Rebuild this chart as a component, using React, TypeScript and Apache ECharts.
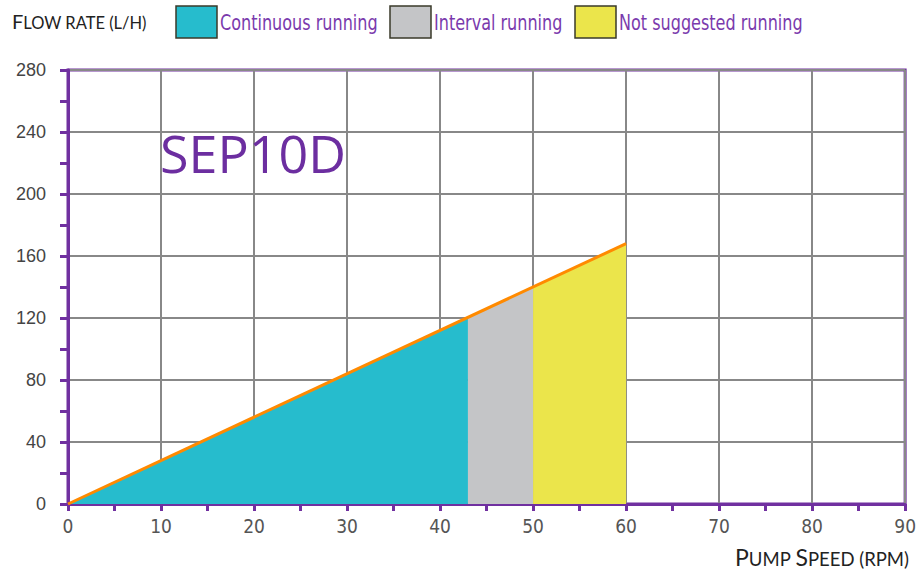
import React, { useEffect, useRef } from "react";
import * as echarts from "echarts";

const continuousRunning: [number, number][] = [[0, 0], [43, 120.4]];
const intervalRunning: [number, number][] = [[43, 120.4], [50, 140]];
const notSuggestedRunning: [number, number][] = [[50, 140], [60, 168]];
const flowLine: [number, number][] = [[0, 0], [60, 168]];
const legendNames = ["Continuous running", "Interval running", "Not suggested running"];
const legendColors = ["#26bccd", "#c4c5c7", "#ebe54b"];
const pumpModel = "SEP10D";

const PURPLE = "#7030a0";
const TEXT_PURPLE = "#7a3aad";
const NARROW = "'Liberation Sans Narrow', 'DejaVu Sans Condensed', 'Roboto', sans-serif";

export default function App() {
  const ref = useRef<HTMLDivElement>(null);
  useEffect(() => {
    if (!ref.current) return;
    const chart = echarts.init(ref.current, undefined, { renderer: "svg" });
    const area = (name: string, data: [number, number][], color: string) => ({
      name,
      type: "line",
      data,
      symbol: "none",
      lineStyle: { width: 0, color },
      itemStyle: { color },
      areaStyle: { color, opacity: 1 },
      z: 2,
    });
    const legendX = [176, 390, 575];
    const legendGraphics: any[] = [];
    legendNames.forEach((name, i) => {
      legendGraphics.push({
        type: "rect",
        shape: { x: legendX[i], y: 6, width: 41, height: 32 },
        style: { fill: legendColors[i], stroke: "#3a3a2a", lineWidth: 1.5 },
      });
      legendGraphics.push({
        type: "text",
        x: legendX[i] + 44,
        y: 23,
        scaleX: 0.85,
        style: {
          text: name,
          fill: TEXT_PURPLE,
          font: `21px ${NARROW}`,
          verticalAlign: "middle",
          align: "left",
        },
      });
    });
    chart.setOption({
      animation: false,
      backgroundColor: "#fff",
      grid: { left: 68, right: 9, top: 70, bottom: 72, show: true, borderColor: PURPLE, borderWidth: 3, backgroundColor: "transparent" },
      xAxis: {
        type: "value",
        min: 0,
        max: 90,
        interval: 10,
        axisLine: { show: true, lineStyle: { color: PURPLE, width: 3 } },
        axisTick: { show: true, length: 7, inside: false, lineStyle: { color: PURPLE, width: 3 } },
        minorTick: { show: true, splitNumber: 2, length: 7, lineStyle: { color: PURPLE, width: 3 } },
        splitLine: { show: true, lineStyle: { color: "#888", width: 2 } },
        axisLabel: { color: "#555", fontSize: 19, fontFamily: NARROW, margin: 12 },
      },
      yAxis: {
        type: "value",
        min: 0,
        max: 280,
        interval: 40,
        axisLine: { show: true, lineStyle: { color: PURPLE, width: 3 } },
        axisTick: { show: true, length: 8, lineStyle: { color: PURPLE, width: 3 } },
        minorTick: { show: true, splitNumber: 2, length: 8, lineStyle: { color: PURPLE, width: 3 } },
        splitLine: { show: true, lineStyle: { color: "#888", width: 2 } },
        axisLabel: { color: "#444", fontSize: 18, fontFamily: "'Liberation Sans', Arial, sans-serif", margin: 22 },
      },
      series: [
        area(legendNames[0], continuousRunning, legendColors[0]),
        area(legendNames[1], intervalRunning, legendColors[1]),
        area(legendNames[2], notSuggestedRunning, legendColors[2]),
        {
          name: "Flow rate",
          type: "line",
          data: flowLine,
          symbol: "none",
          lineStyle: { color: "#ff8a00", width: 3 },
          z: 5,
        },
      ],
      graphic: [
        ...legendGraphics,
        {
          type: "text",
          left: 160,
          top: 126,
          style: { text: pumpModel, fill: "#6c2ea0", font: "52px 'Open Sans', 'Noto Sans', sans-serif" },
          z: 10,
        },
        {
          type: "text",
          left: 12,
          top: 11,
          style: {
            text: "{b|F}{s|LOW RATE (L/H)}",
            rich: {
              b: { fontSize: 20, fill: "#222", fontFamily: "Lato, sans-serif", verticalAlign: "bottom" },
              s: { fontSize: 16.5, fill: "#222", fontFamily: "Lato, sans-serif", verticalAlign: "bottom" },
            },
          },
        },
        {
          type: "text",
          right: 10,
          top: 545,
          style: {
            text: "{b|P}{s|UMP }{b|S}{s|PEED (RPM)}",
            rich: {
              b: { fontSize: 23, fill: "#222", fontFamily: "Lato, sans-serif", verticalAlign: "bottom" },
              s: { fontSize: 18.5, fill: "#222", fontFamily: "Lato, sans-serif", verticalAlign: "bottom" },
            },
          },
        },
      ],
    });
    return () => chart.dispose();
  }, []);
  return <div ref={ref} style={{ width: 919, height: 576, position: "absolute", left: 0, top: 0 }} />;
}
